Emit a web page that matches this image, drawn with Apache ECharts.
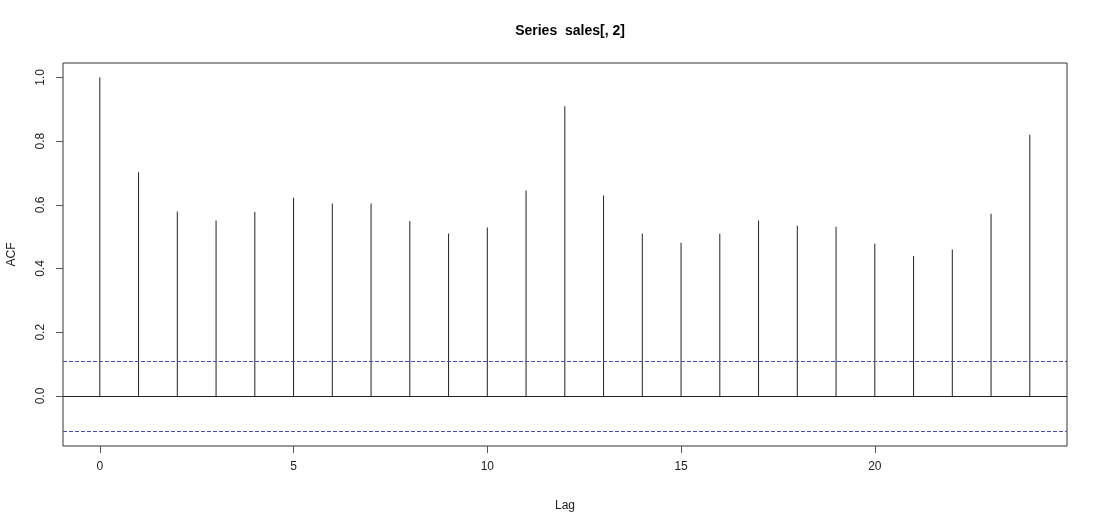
<!DOCTYPE html>
<html>
<head>
  <meta charset="utf-8" />
  <title>Series sales[, 2]</title>
  <script src="https://cdn.jsdelivr.net/npm/echarts@6/dist/echarts.min.js"></script>
  <style>
    html, body { margin: 0; padding: 0; background: #fff; }
  </style>
</head>
<body>
<div id="main" style="width: 1100px;height:525px;"></div>
<script type="text/javascript">
  // acf values
  var lags = [0, 1, 2, 3, 4, 5, 6, 7, 8, 9, 10, 11, 12, 13, 14, 15, 16, 17, 18, 19, 20, 21, 22, 23, 24];
  var acf = [1.0, 0.702, 0.579, 0.551, 0.577, 0.622, 0.604, 0.604, 0.549, 0.510, 0.529, 0.645,
             0.909, 0.629, 0.510, 0.481, 0.509, 0.551, 0.534, 0.531, 0.478, 0.439, 0.460, 0.572, 0.820];
  var ciBound = 0.113;
  var xTicks = [0, 5, 10, 15, 20];
  var yTicks = [0.0, 0.2, 0.4, 0.6, 0.8, 1.0];

  var chart = echarts.init(document.getElementById('main'));
  var font = 'Liberation Sans, Arial, sans-serif';

  var option = {
    animation: false,
    backgroundColor: '#fff',
    title: {
      text: 'Series  sales[, 2]',
      left: 565,
      top: 19,
      textAlign: 'center',
      textStyle: { fontFamily: font, fontSize: 14, fontWeight: 'bold', color: '#000' }
    },
    grid: {
      left: 63, top: 63, right: 33, bottom: 79,
      outerBoundsMode: 'none', containLabel: false,
      show: true, borderColor: '#333', borderWidth: 1
    },
    xAxis: {
      type: 'value',
      min: -0.95,
      max: 24.96,
      name: 'Lag',
      nameLocation: 'middle',
      nameGap: 54,
      nameTextStyle: { fontFamily: font, fontSize: 12, color: '#222' },
      axisLine: { show: false, onZero: false },
      splitLine: { show: false },
      axisTick: { show: true, length: 7, customValues: xTicks, lineStyle: { color: '#555' } },
      axisLabel: {
        customValues: xTicks,
        margin: 15,
        fontFamily: font, fontSize: 12, color: '#222',
        formatter: function (v) { return String(v); }
      }
    },
    yAxis: {
      type: 'value',
      min: -0.157,
      max: 1.045,
      name: 'ACF',
      nameLocation: 'middle',
      nameGap: 45,
      nameRotate: 90,
      nameTextStyle: { fontFamily: font, fontSize: 12, color: '#222' },
      axisLine: { show: false, onZero: false },
      splitLine: { show: false },
      axisTick: { show: true, length: 7, customValues: yTicks, lineStyle: { color: '#555' } },
      axisLabel: {
        customValues: yTicks,
        rotate: 90,
        margin: 16,
        fontFamily: font, fontSize: 12, color: '#222',
        formatter: function (v) { return v.toFixed(1); }
      }
    },
    series: [{
      name: 'ACF',
      type: 'bar',
      barWidth: 1,
      itemStyle: { color: '#222' },
      data: lags.map(function (l, i) { return [l, acf[i]]; }),
      markLine: {
        symbol: 'none',
        silent: true,
        label: { show: false },
        data: [
          { yAxis: 0, lineStyle: { color: '#222', type: 'solid', width: 1 } },
          { yAxis: ciBound, lineStyle: { color: '#4a4ab8', type: [4, 2], width: 1 } },
          { yAxis: -ciBound, lineStyle: { color: '#4a4ab8', type: [4, 2], width: 1 } }
        ]
      }
    }]
  };
  chart.setOption(option);
</script>
</body>
</html>
